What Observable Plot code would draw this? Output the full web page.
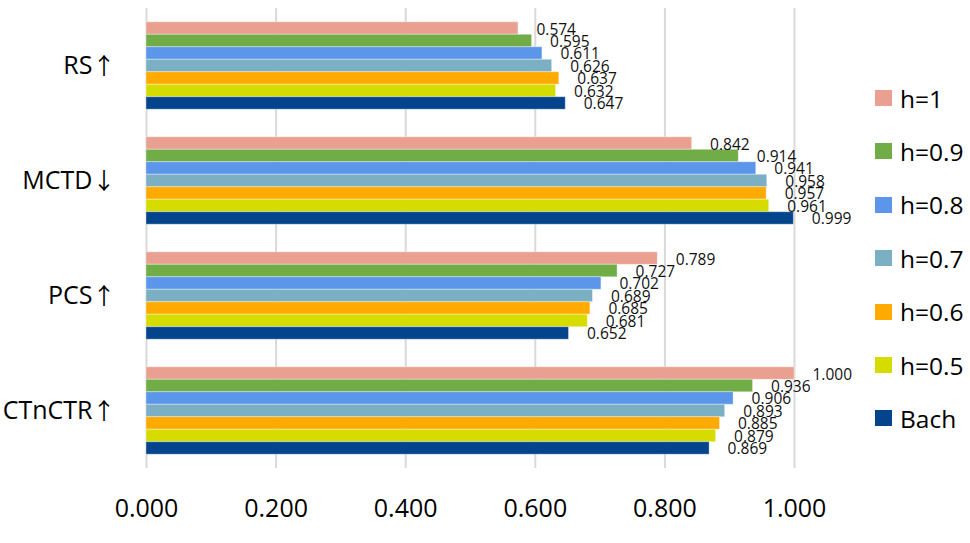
<!DOCTYPE html>
<html>
<head>
<meta charset="utf-8">
<script src="https://cdn.jsdelivr.net/npm/d3@7"></script>
<script src="https://cdn.jsdelivr.net/npm/@observablehq/plot@0.6"></script>
<style>
  body { margin: 0; background: #fff; }
  #wrap { position: relative; width: 970px; height: 543px; font-family: "Open Sans", sans-serif; }
  #legend { position: absolute; left: 875px; top: 0; }
  .item { position: absolute; left: 0; display: flex; align-items: center; white-space: nowrap; height: 30px; }
  .sw { width: 17px; height: 16px; margin-right: 8px; }
  .lab { font-size: 24.5px; color: #000; }
</style>
</head>
<body>
<div id="wrap"><div id="chart"></div><div id="legend"></div></div>
<script>
const categories = ["RS↑", "MCTD↓", "PCS↑", "CTnCTR↑"];
const series = ["h=1", "h=0.9", "h=0.8", "h=0.7", "h=0.6", "h=0.5", "Bach"];
const colors = ["#E9A090", "#70AD47", "#5B96EA", "#7BAFC4", "#FFAA00", "#D6DC00", "#03448C"];
const RS     = [0.574, 0.595, 0.611, 0.626, 0.637, 0.632, 0.647];
const MCTD   = [0.842, 0.914, 0.941, 0.958, 0.957, 0.961, 0.999];
const PCS    = [0.789, 0.727, 0.702, 0.689, 0.685, 0.681, 0.652];
const CTnCTR = [1.000, 0.936, 0.906, 0.893, 0.885, 0.879, 0.869];
const xTicks = [0, 0.2, 0.4, 0.6, 0.8, 1.0];

const valuesByCat = [RS, MCTD, PCS, CTnCTR];
const data = [];
categories.forEach((c, i) => series.forEach((s, j) => data.push({category: c, series: s, value: valuesByCat[i][j]})));

const chart = Plot.plot({
  width: 970,
  height: 543,
  marginLeft: 146,
  marginRight: 176,
  marginTop: 6,
  marginBottom: 74,
  style: {fontFamily: "Open Sans, sans-serif", fontSize: "25px", color: "#000", background: "transparent"},
  x: {domain: [0, 1], ticks: xTicks, tickFormat: d3.format(".3f"), tickSize: 0, tickPadding: 31, label: null},
  fy: {domain: categories, padding: 0, label: null, tickSize: 0, tickPadding: 31, axis: "left"},
  y: {domain: series, axis: null, paddingInner: 0, paddingOuter: 1.105, round: false},
  color: {domain: series, range: colors},
  marks: [
    Plot.ruleX(xTicks, {stroke: "#d9d9d9", strokeWidth: 2}),
    Plot.barX(data, {x: "value", y: "series", fy: "category", fill: "series", stroke: "#ffffff", strokeOpacity: 0.35, strokeWidth: 1}),
    Plot.text(data, {x: "value", y: "series", fy: "category", text: d => d.value.toFixed(3), textAnchor: "start", dx: 18, dy: 1, fontSize: 15.5, fill: "#111"})
  ]
});
document.getElementById("chart").appendChild(chart);

// render arrows in the category labels with a taller glyph
d3.select(chart).selectAll("text").each(function() {
  const t = this.textContent;
  const m = t.match(/^(.*?)([↑↓])$/);
  if (!m || this.querySelector("tspan")) return;
  const el = d3.select(this);
  el.text(null);
  el.append("tspan").text(m[1]);
  el.append("tspan").attr("font-family", "Noto Sans CJK SC").attr("font-size", "23px").text(m[2]);
});

const legend = document.getElementById("legend");
series.forEach((s, i) => {
  const item = document.createElement("div");
  item.className = "item";
  item.style.top = (98 - 15 + i * 53.4) + "px";
  const sw = document.createElement("div");
  sw.className = "sw";
  sw.style.background = colors[i];
  const lab = document.createElement("span");
  lab.className = "lab";
  lab.textContent = s;
  item.appendChild(sw);
  item.appendChild(lab);
  legend.appendChild(item);
});
</script>
</body>
</html>
